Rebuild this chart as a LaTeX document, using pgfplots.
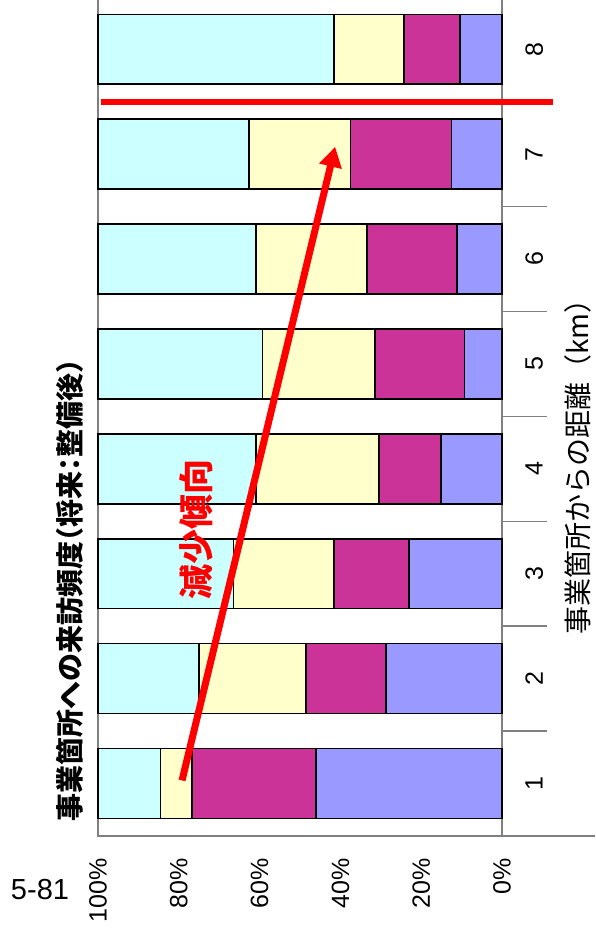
\documentclass[border=0pt]{standalone}
\usepackage{pgfplots}
\pgfplotsset{compat=1.18}
\usepackage{fontspec}
\setmainfont{Liberation Sans}
\newfontfamily\jp{Noto Sans CJK JP}
\newfontfamily\jph[CharacterWidth=AlternateHalf]{Noto Sans CJK JP}
\usetikzlibrary{arrows.meta}
\definecolor{cCyan}{HTML}{CCFFFF}
\definecolor{cYel}{HTML}{FFFFCC}
\definecolor{cMag}{HTML}{CC3399}
\definecolor{cLav}{HTML}{9999FF}
\definecolor{axgray}{HTML}{808080}
\begin{document}
\begin{tikzpicture}
\begin{axis}[
  at={(98pt,100pt)}, anchor=south west,
  scale only axis, width=404pt, height=839.2pt,
  xbar stacked, bar width=0.667,
  x dir=reverse, xmin=0, xmax=100,
  ymin=0.5, ymax=8.5,
  axis line style={draw=axgray, line width=1.5pt},
  xtick={0,20,...,100},
  xticklabel={\pgfmathprintnumber{\tick}\%},
  xtick pos=lower,
  major tick length=0pt,
  xticklabel style={rotate=90, anchor=east, font=\fontsize{25}{25}\selectfont},
  xticklabel shift=19pt,
  ytick={1,...,8},
  ytick pos=right,
  minor ytick={1.5,2.5,...,7.5},
  minor tick length=45pt,
  tick align=outside,
  minor tick style={draw=axgray, line width=1.5pt},
  yticklabel style={rotate=90, anchor=north, font=\fontsize{25}{25}\selectfont},
  yticklabel shift=20pt,
  /pgf/number format/assume math mode=true,
  clip=false,
  every axis plot/.append style={draw=black, line width=1.5pt},
]
\addplot[fill=cLav] coordinates {(46.0,1) (28.7,2) (23.0,3) (15.1,4) (9.3,5) (11.2,6) (12.5,7) (10.4,8)};
\addplot[fill=cMag] coordinates {(30.7,1) (19.8,2) (18.6,3) (15.3,4) (22.1,5) (22.2,6) (25.0,7) (13.8,8)};
\addplot[fill=cYel] coordinates {(7.8,1) (26.5,2) (24.9,3) (30.5,4) (27.9,5) (27.5,6) (25.1,7) (17.4,8)};
\addplot[fill=cCyan] coordinates {(15.5,1) (25.0,2) (33.5,3) (39.1,4) (40.7,5) (39.1,6) (37.4,7) (58.4,8)};
\coordinate (B0) at (axis cs:0,0.5);
\coordinate (A1) at (axis cs:79.2,1.03);
\coordinate (A2) at (axis cs:41.3,7.07);
\coordinate (L1) at (axis cs:99.3,7.5);
\coordinate (L2) at (axis cs:-12.6,7.5);
\end{axis}
\draw[axgray, line width=1.5pt] (B0) -- ++(93pt,0);
\draw[red, line width=7pt, -{Triangle[length=20pt,width=22pt]}] (A1) -- (A2);
\draw[red, line width=6pt] (L1) -- (L2);
\node[rotate=90, font=\jph\bfseries\fontsize{28}{28}\selectfont] at (70pt,345pt) {事業箇所への来訪頻度（将来：整備後）};
\node[rotate=90, font=\jp\fontsize{28}{28}\selectfont] at (578pt,476pt) {事業箇所からの距離（km）};
\node[rotate=90, text=red, font=\jp\bfseries\fontsize{35}{35}\selectfont] at (196pt,406pt) {減少傾向};
\node[font=\fontsize{29}{29}\selectfont] at (40pt,46pt) {5-81};
\pgfresetboundingbox
\path[use as bounding box] (0,0) rectangle (595pt,936pt);
\end{tikzpicture}
\end{document}
